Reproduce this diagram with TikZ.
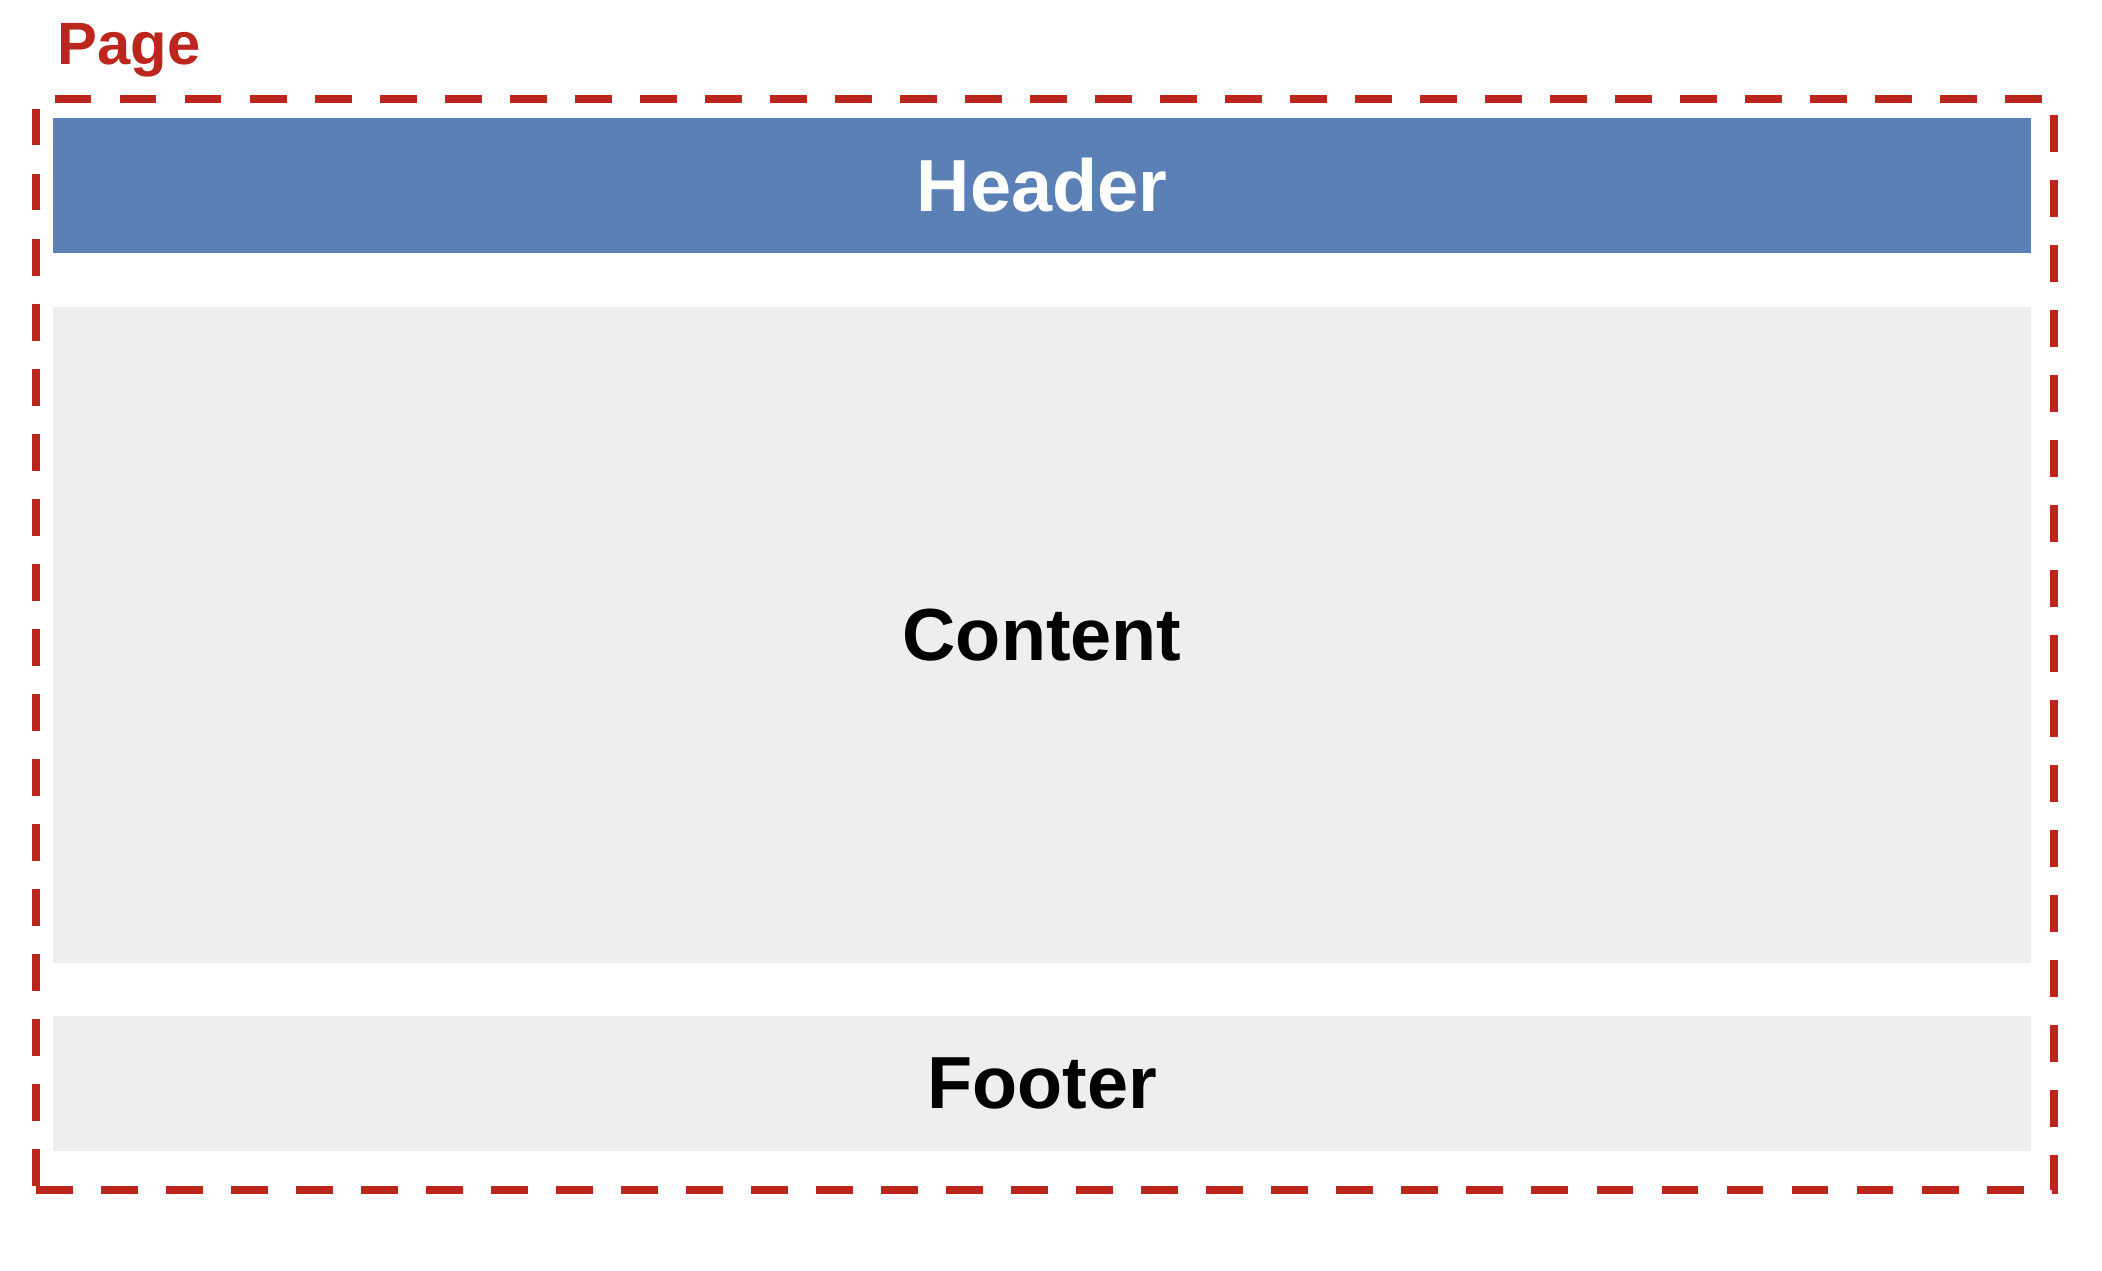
\documentclass[tikz,border=0pt]{standalone}
\usepackage{fontspec}
\setmainfont{Liberation Sans}
\usepackage{xcolor}
\usepackage{tikz}
\usetikzlibrary{positioning}
\definecolor{pagered}{RGB}{187,39,28}
\definecolor{headblue}{RGB}{90,128,182}
\definecolor{boxgray}{RGB}{238,238,238}
\tikzset{part node/.style={rectangle,inner sep=0pt,outer sep=0pt,minimum width=19.78cm,font=\fontsize{21pt}{25pt}\selectfont\bfseries},
	page frame/.style={rectangle,draw=pagered,line width=2.4pt,dash pattern=on 10.5pt off 8pt,inner sep=0pt,outer sep=0pt,minimum width=20.18cm,minimum height=10.91cm},}

\begin{document}
\begin{tikzpicture}[auto,node distance=0.54cm]
	\useasboundingbox (0,0) rectangle (21.02,12.70);
	\node[page frame] (page) at (10.45,6.255) {};
	\node[anchor=base west,text=pagered,font=\fontsize{17pt}{20pt}\selectfont\bfseries,inner sep=0pt] (pagelabel) at (0.57,12.05) {Page};

	\node[part node,fill=headblue,text=white,minimum height=1.35cm] (header) at (10.42,10.845) {Header};
	\node[part node,fill=boxgray,minimum height=6.56cm] (content) [below = of header] {Content};
	\node[part node,fill=boxgray,minimum height=1.35cm] (footer) [below = 0.53cm of content] {Footer};
\end{tikzpicture}
\end{document}
